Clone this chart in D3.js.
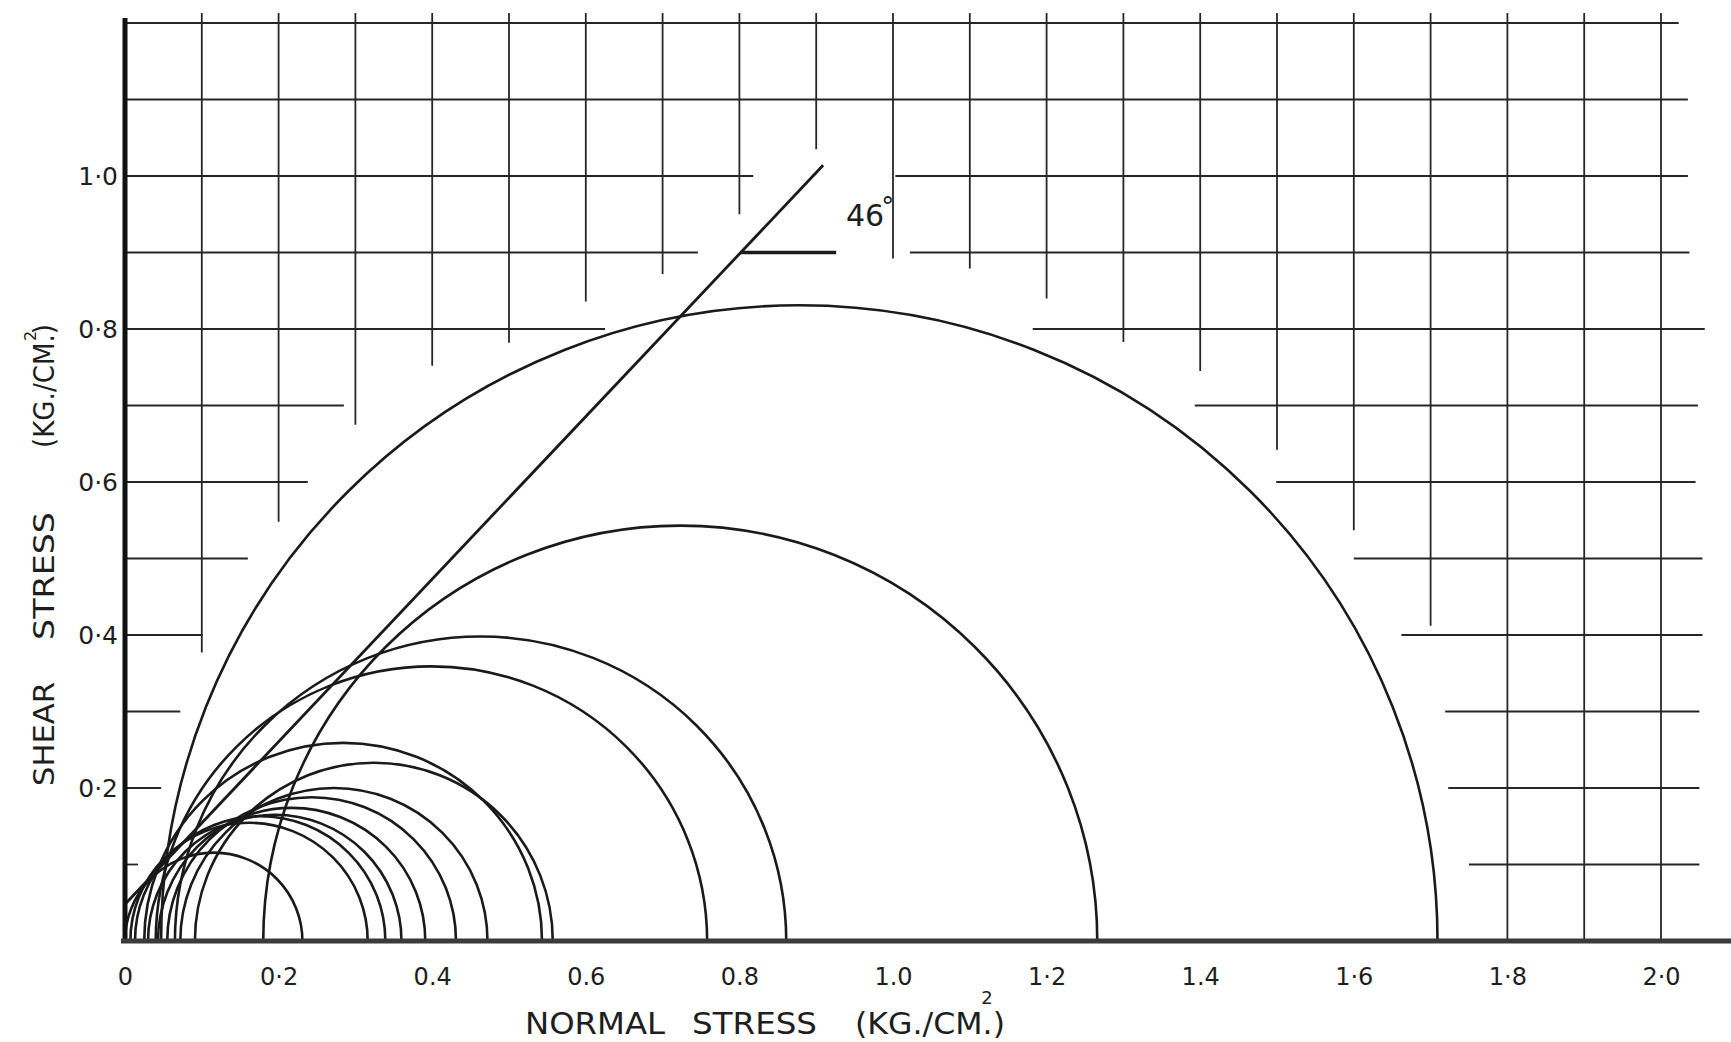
<!DOCTYPE html>
<html>
<head>
<meta charset="utf-8">
<script src="https://cdn.jsdelivr.net/npm/d3@7"></script>
<style>
  html, body { margin: 0; padding: 0; background: #fff; }
  svg { display: block; }
  text { font-family: "DejaVu Sans", sans-serif; fill: #1e1e1e; }
</style>
</head>
<body>
<svg id="chart"></svg>
<script>
// Mohr circles: where each one meets the normal stress axis (kg/cm2)
var circleLeft  = [0.000, 0.007, 0.013, 0.030, 0.043, 0.055, 0.072, 0.025, 0.091, 0.040, 0.065, 0.180, 0.047];
var circleRight = [0.231, 0.316, 0.339, 0.360, 0.391, 0.431, 0.472, 0.543, 0.557, 0.758, 0.861, 1.266, 1.709];

// failure envelope and its angle mark
var envelopeSigma = [0, 0.909];
var envelopeTau = [0.048, 1.014];
var angleMarkSigma = [0.801, 0.926];
var angleMarkTau = 0.9;
var angleLabel = "46";

// ticks
var xTickValues = [0, 0.2, 0.4, 0.6, 0.8, 1.0, 1.2, 1.4, 1.6, 1.8, 2.0];
var xTickLabels = ["0", "0·2", "0.4", "0.6", "0.8", "1.0", "1·2", "1.4", "1·6", "1·8", "2·0"];
var yTickValues = [0.2, 0.4, 0.6, 0.8, 1.0];
var yTickLabels = ["0·2", "0·4", "0·6", "0·8", "1·0"];

// hand drawn grid, erased round the circles
var gridSigma       = [0.1, 0.2, 0.3, 0.4, 0.5, 0.6, 0.7, 0.8, 0.9, 1.0, 1.1, 1.2, 1.3, 1.4, 1.5, 1.6, 1.7, 1.8, 1.9, 2.0];
var gridSigmaBottom = [0.377, 0.548, 0.675, 0.752, 0.782, 0.836, 0.872, 0.950, 1.035, 0.892, 0.879, 0.840, 0.783, 0.745, 0.642, 0.537, 0.412, 0, 0, 0];
var gridTau           = [0.1, 0.2, 0.3, 0.4, 0.5, 0.6, 0.7, 0.8, 0.9, 1.0, 1.1, 1.2];
var gridTauLeftEnd    = [0.017, 0.047, 0.072, 0.101, 0.160, 0.238, 0.285, 0.625, 0.746, 0.818, null, null];
var gridTauRightStart = [1.750, 1.723, 1.719, 1.662, 1.600, 1.499, 1.393, 1.182, 1.022, 1.003, null, null];
var gridTauRightEnd   = [2.050, 2.050, 2.050, 2.054, 2.054, 2.045, 2.048, 2.057, 2.037, 2.035, 2.035, 2.023];
var gridTop = 1.213;

var width = 1731, height = 1042;

var svg = d3.select("#chart")
  .attr("width", width)
  .attr("height", height);

var x = d3.scaleLinear().domain([0, 2]).range([125, 1661]);
var y = d3.scaleLinear().domain([0, 1.2]).range([941, 23]);

var ink = "#1a1a1a";

// grid
var grid = svg.append("g").attr("stroke", "#262626").attr("stroke-width", 1.8);

grid.selectAll(".vgrid")
  .data(gridSigma)
  .enter()
  .append("line")
  .attr("class", "vgrid")
  .attr("x1", function(d) { return x(d); })
  .attr("x2", function(d) { return x(d); })
  .attr("y1", y(gridTop))
  .attr("y2", function(d, i) { return y(gridSigmaBottom[i]); });

var hSegments = [];
gridTau.forEach(function(t, i) {
  if (gridTauLeftEnd[i] === null) {
    hSegments.push({ tau: t, from: 0, to: gridTauRightEnd[i] });
  } else {
    hSegments.push({ tau: t, from: 0, to: gridTauLeftEnd[i] });
    hSegments.push({ tau: t, from: gridTauRightStart[i], to: gridTauRightEnd[i] });
  }
});

grid.selectAll(".hgrid")
  .data(hSegments)
  .enter()
  .append("line")
  .attr("class", "hgrid")
  .attr("x1", function(d) { return x(d.from); })
  .attr("x2", function(d) { return x(d.to); })
  .attr("y1", function(d) { return y(d.tau); })
  .attr("y2", function(d) { return y(d.tau); });

// Mohr circles (upper halves)
var circles = circleLeft.map(function(l, i) {
  return { left: l, right: circleRight[i], radius: (circleRight[i] - l) / 2 };
});

svg.append("g")
  .selectAll(".mohr")
  .data(circles)
  .enter()
  .append("path")
  .attr("class", "mohr")
  .attr("fill", "none")
  .attr("stroke", ink)
  .attr("stroke-width", 2.6)
  .attr("d", function(d) {
    var x0 = x(d.left), x1 = x(d.right);
    var rx = (x1 - x0) / 2;
    var ry = y(0) - y(d.radius);
    return "M" + x0 + "," + y(0) + " A" + rx + "," + ry + " 0 0 1 " + x1 + "," + y(0);
  });

// envelope
svg.append("line")
  .attr("x1", x(envelopeSigma[0]))
  .attr("y1", y(envelopeTau[0]))
  .attr("x2", x(envelopeSigma[1]))
  .attr("y2", y(envelopeTau[1]))
  .attr("stroke", ink)
  .attr("stroke-width", 2.8);

svg.append("line")
  .attr("x1", x(angleMarkSigma[0]))
  .attr("x2", x(angleMarkSigma[1]))
  .attr("y1", y(angleMarkTau))
  .attr("y2", y(angleMarkTau))
  .attr("stroke", ink)
  .attr("stroke-width", 3.4);

var angleText = svg.append("text")
  .attr("x", 846)
  .attr("y", 226)
  .style("font-size", "30px");

angleText.append("tspan").text(angleLabel);
angleText.append("tspan")
  .attr("dx", -3)
  .attr("dy", -10)
  .style("font-size", "26px")
  .text("°");

// axes lines
svg.append("line")
  .attr("x1", x(0))
  .attr("x2", x(0))
  .attr("y1", 18)
  .attr("y2", y(0) + 2)
  .attr("stroke", "#111")
  .attr("stroke-width", 5);

svg.append("line")
  .attr("x1", x(0) - 4)
  .attr("x2", width)
  .attr("y1", y(0))
  .attr("y2", y(0))
  .attr("stroke", "#3b3b3b")
  .attr("stroke-width", 5);

// tick labels
var xAxis = d3.axisBottom(x)
  .tickValues(xTickValues)
  .tickFormat(function(d, i) { return xTickLabels[i]; })
  .tickSize(0)
  .tickPadding(27);

svg.append("g")
  .attr("transform", "translate(0," + y(0) + ")")
  .call(xAxis)
  .call(function(g) { g.select(".domain").remove(); })
  .selectAll("text")
  .style("font-family", "DejaVu Sans, sans-serif")
  .style("font-size", "24px")
  .attr("fill", "#1e1e1e");

var yAxis = d3.axisLeft(y)
  .tickValues(yTickValues)
  .tickFormat(function(d, i) { return yTickLabels[i]; })
  .tickSize(0)
  .tickPadding(7);

svg.append("g")
  .attr("transform", "translate(" + x(0) + ",0)")
  .call(yAxis)
  .call(function(g) { g.select(".domain").remove(); })
  .selectAll("text")
  .style("font-family", "DejaVu Sans, sans-serif")
  .style("font-size", "25px")
  .attr("fill", "#1e1e1e");

// axis titles, each word placed where it was lettered
var xTitle = [
  { text: "NORMAL", x: 525, len: 140 },
  { text: "STRESS", x: 692, len: 125 },
  { text: "(KG./CM.)", x: 855, len: 150 }
];

svg.append("g")
  .selectAll("text")
  .data(xTitle)
  .enter()
  .append("text")
  .attr("x", function(d) { return d.x; })
  .attr("y", 1034)
  .attr("textLength", function(d) { return d.len; })
  .attr("lengthAdjust", "spacingAndGlyphs")
  .style("font-size", "30px")
  .text(function(d) { return d.text; });

svg.append("text")
  .attr("x", 987)
  .attr("y", 1004)
  .attr("text-anchor", "middle")
  .style("font-size", "18px")
  .text("2");

var yTitle = [
  { text: "SHEAR", start: 786, len: 104 },
  { text: "STRESS", start: 640, len: 128 },
  { text: "(KG./CM.)", start: 448, len: 124 }
];

svg.append("g")
  .selectAll("text")
  .data(yTitle)
  .enter()
  .append("text")
  .attr("transform", function(d) { return "translate(54," + d.start + ") rotate(-90)"; })
  .attr("textLength", function(d) { return d.len; })
  .attr("lengthAdjust", "spacingAndGlyphs")
  .style("font-size", "28px")
  .text(function(d) { return d.text; });

svg.append("text")
  .attr("transform", "translate(36,336) rotate(-90)")
  .attr("text-anchor", "middle")
  .style("font-size", "16px")
  .text("2");
</script>
</body>
</html>
